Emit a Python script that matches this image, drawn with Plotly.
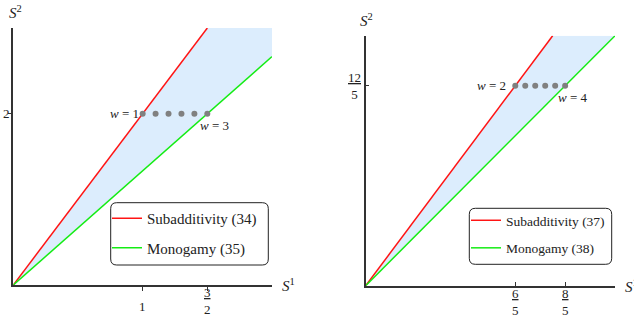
import plotly.graph_objects as go
from plotly.subplots import make_subplots

W, H = 634, 322
FONT = "Liberation Serif"
RED = "#ff1414"
GREEN = "#14ec14"
FILL = "rgba(214,234,253,0.85)"
DOT = "#808080"
AXIS = "#333333"
TXT = "#222222"

# ── left panel data ──
left_range_x = [0, 2]
left_range_y = [0, 3]
left_red_x = [0, 1.5]
left_red_y = [0, 3]
left_green_x = [0, 2]
left_green_y = [0, 8 / 3]
left_dots_x = [1, 1.1, 1.2, 1.3, 1.4, 1.5]
left_dots_y = [2, 2, 2, 2, 2, 2]
left_xticks = [1, 1.5]
left_xtick_labels = [("1", None), ("3", "2")]
left_yticks = [2]
left_ytick_labels = [("2", None)]
left_names = ["Subadditivity (34)", "Monogamy (35)"]
left_w_labels = ["w = 1", "w = 3"]

# ── right panel data ──
right_range_x = [0, 2]
right_range_y = [0, 3]
right_red_x = [0, 1.5]
right_red_y = [0, 3]
right_green_x = [0, 2]
right_green_y = [0, 3]
right_dots_x = [1.2, 1.28, 1.36, 1.44, 1.52, 1.6]
right_dots_y = [2.4, 2.4, 2.4, 2.4, 2.4, 2.4]
right_xticks = [1.2, 1.6]
right_xtick_labels = [("6", "5"), ("8", "5")]
right_yticks = [2.4]
right_ytick_labels = [("12", "5")]
right_names = ["Subadditivity (37)", "Monogamy (38)"]
right_w_labels = ["w = 2", "w = 4"]


def px(x):
    return x / W


def py(y):
    return (H - y) / H


def rounded_box(x0, y0, x1, y1, r=6):
    # pixel box -> paper path with rounded corners
    X0, X1, Y0, Y1 = px(x0), px(x1), py(y1), py(y0)
    rx, ry = r / W, r / H
    return (f"M{X0+rx},{Y0} L{X1-rx},{Y0} Q{X1},{Y0} {X1},{Y0+ry} "
            f"L{X1},{Y1-ry} Q{X1},{Y1} {X1-rx},{Y1} L{X0+rx},{Y1} "
            f"Q{X0},{Y1} {X0},{Y1-ry} L{X0},{Y0+ry} Q{X0},{Y0} {X0+rx},{Y0} Z")


def math_label(s):
    return s.replace("w", "<i>w</i>")


def tick_text(num, den):
    # stacked fraction: underlined numerator over denominator
    if den is None:
        return num
    return f"<u>{num}</u><br>{den}"


fig = make_subplots(rows=1, cols=2)

panels = [
    dict(col=1, xa="x", ya="y", rx=left_range_x, ry=left_range_y,
         red=(left_red_x, left_red_y), green=(left_green_x, left_green_y),
         dots=(left_dots_x, left_dots_y), xt=left_xticks, xtl=left_xtick_labels,
         yt=left_yticks, ytl=left_ytick_labels, names=left_names,
         w=left_w_labels, legend="legend", ticks="outside",
         dom_x=[13.3, 272], dom_y=[28, 285], wl_shift=-2,
         box=(110.7, 202.7, 268.3, 265), leg_x=107, leg_y=202, leg_font=15, gap=7,
         xlab_pos=(280, 285), ylab_pos=(7, 12)),
    dict(col=2, xa="x2", ya="y2", rx=right_range_x, ry=right_range_y,
         red=(right_red_x, right_red_y), green=(right_green_x, right_green_y),
         dots=(right_dots_x, right_dots_y), xt=right_xticks, xtl=right_xtick_labels,
         yt=right_yticks, ytl=right_ytick_labels, names=right_names,
         w=right_w_labels, legend="legend2", ticks="inside",
         dom_x=[365.7, 615], dom_y=[35.7, 285.7], wl_shift=-7,
         box=(469.3, 208.3, 611.7, 264.3), leg_x=466, leg_y=205, leg_font=13.5, gap=7,
         xlab_pos=(623, 285.7), ylab_pos=(358, 20)),
]

annotations = []
shapes = []
legends = {}

for p in panels:
    col = p["col"]
    (rxs, rys), (gxs, gys) = p["red"], p["green"]
    # shaded region between the two bounds, closed along the top of the range
    poly_x = rxs + [p["rx"][1]] + gxs[::-1]
    poly_y = rys + [p["ry"][1]] + gys[::-1]
    fig.add_trace(go.Scatter(x=poly_x, y=poly_y, fill="toself", fillcolor=FILL,
                             mode="lines", line=dict(width=0), showlegend=False,
                             hoverinfo="skip"), row=1, col=col)
    fig.add_trace(go.Scatter(x=rxs, y=rys, mode="lines", name=p["names"][0],
                             line=dict(color=RED, width=1.5), legend=p["legend"],
                             legendgroup=p["names"][0]), row=1, col=col)
    fig.add_trace(go.Scatter(x=gxs, y=gys, mode="lines", name=p["names"][1],
                             line=dict(color=GREEN, width=1.5), legend=p["legend"],
                             legendgroup=p["names"][1]), row=1, col=col)
    dx, dy = p["dots"]
    fig.add_trace(go.Scatter(x=dx, y=dy, mode="markers", showlegend=False,
                             marker=dict(color=DOT, size=6), cliponaxis=False),
                  row=1, col=col)

    # w labels at the first and last dot
    annotations.append(dict(xref=p["xa"], yref=p["ya"], x=dx[0], y=dy[0],
                            text=math_label(p["w"][0]), showarrow=False,
                            xanchor="right", yanchor="middle", xshift=p["wl_shift"],
                            font=dict(family=FONT, size=13, color=TXT)))
    annotations.append(dict(xref=p["xa"], yref=p["ya"], x=dx[-1], y=dy[-1],
                            text=math_label(p["w"][1]), showarrow=False,
                            xanchor="left", yanchor="middle", xshift=-9, yshift=-12,
                            font=dict(family=FONT, size=13, color=TXT)))

    # tick labels (plain numbers or stacked fractions)
    for v, (num, den) in zip(p["xt"], p["xtl"]):
        annotations.append(dict(xref=p["xa"], yref=p["ya"], x=v, y=0,
                                text=tick_text(num, den), showarrow=False,
                                yanchor="top", yshift=-12 if den is None else 2,
                                font=dict(family=FONT, size=13, color=TXT)))
    for v, (num, den) in zip(p["yt"], p["ytl"]):
        annotations.append(dict(xref=p["xa"], yref=p["ya"], x=0, y=v,
                                text=tick_text(num, den), showarrow=False,
                                xanchor="center", yanchor="middle",
                                xshift=-7 if den is None else -11,
                                yshift=0 if den is None else 0,
                                font=dict(family=FONT, size=13, color=TXT)))

    # axis titles
    annotations.append(dict(xref="paper", yref="paper", x=px(p["ylab_pos"][0]),
                            y=py(p["ylab_pos"][1]), text="<i>S</i><sup>2</sup>",
                            showarrow=False, xanchor="left", yanchor="middle",
                            font=dict(family=FONT, size=15, color=TXT)))
    annotations.append(dict(xref="paper", yref="paper", x=px(p["xlab_pos"][0]),
                            y=py(p["xlab_pos"][1]), text="<i>S</i><sup>1</sup>",
                            showarrow=False, xanchor="left", yanchor="middle",
                            font=dict(family=FONT, size=15, color=TXT)))

    # legend frame with rounded corners
    shapes.append(dict(type="path", xref="paper", yref="paper",
                       path=rounded_box(*p["box"]), fillcolor="white",
                       line=dict(color=TXT, width=1), layer="below"))

    legends[p["legend"]] = dict(x=px(p["leg_x"]), y=py(p["leg_y"]), xanchor="left",
                                yanchor="top", bgcolor="rgba(0,0,0,0)", borderwidth=0,
                                tracegroupgap=p["gap"], traceorder="grouped",
                                font=dict(family=FONT, size=p["leg_font"], color=TXT))

    axis_common = dict(showgrid=False, zeroline=False, showline=True,
                       linecolor=AXIS, linewidth=1.5, ticks=p["ticks"], ticklen=4,
                       tickcolor=AXIS, tickwidth=1, showticklabels=False)
    fig.update_xaxes(axis_common, range=p["rx"], tickvals=p["xt"],
                     domain=[px(p["dom_x"][0]), px(p["dom_x"][1])], row=1, col=col)
    fig.update_yaxes(axis_common, range=p["ry"], tickvals=p["yt"],
                     domain=[py(p["dom_y"][1]), py(p["dom_y"][0])], row=1, col=col)

fig.update_layout(
    width=W, height=H,
    margin=dict(l=0, r=0, t=0, b=0),
    font=dict(family=FONT, color=TXT),
    paper_bgcolor="white", plot_bgcolor="rgba(0,0,0,0)",
    annotations=annotations, shapes=shapes,
    showlegend=True,
    **legends,
)

fig.write_html("out.html", config={"displayModeBar": False},
               post_script="document.body.style.margin='0';")
